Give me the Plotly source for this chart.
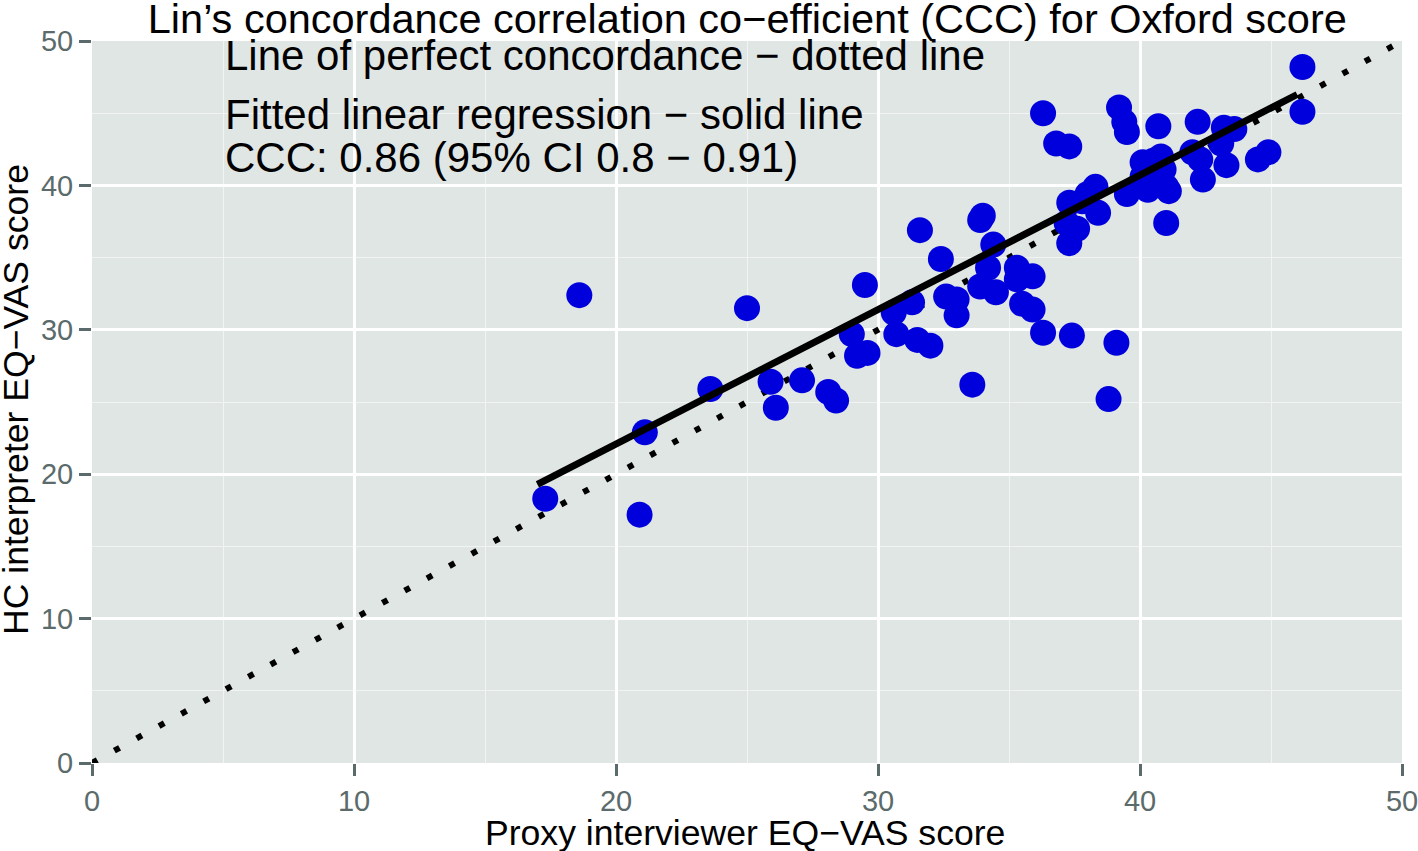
import numpy as np
import plotly.graph_objects as go

# Data
proxy_vas = [18.6, 17.3, 20.9, 21.1, 23.6, 25.0, 25.9, 26.1, 27.1, 28.1,
             28.4, 29.0, 29.2, 29.6, 29.5, 30.6, 30.7, 31.3, 31.5, 31.6,
             32.0, 32.4, 32.6, 33.0, 33.0, 33.6, 33.9, 34.0, 33.9, 34.2,
             34.4, 34.5, 35.3, 35.3, 35.5, 35.9, 35.9, 36.3, 36.3, 36.8,
             37.3, 37.4, 37.3, 37.2, 37.3, 37.6, 37.8, 38.0, 38.3, 38.4,
             38.8, 39.1, 39.2, 39.4, 39.5, 39.5, 40.1, 40.1, 40.3, 40.5,
             40.7, 40.8, 41.0, 41.1, 41.0, 40.9, 42.0, 42.2, 42.3, 42.4,
             43.1, 43.2, 43.3, 43.6, 44.5, 44.9, 46.2, 46.2]
hc_vas = [32.4, 18.3, 17.2, 22.9, 25.9, 31.5, 26.4, 24.6, 26.5, 25.7,
          25.1, 29.7, 28.2, 28.4, 33.1, 31.2, 29.7, 31.9, 29.3, 36.9,
          28.9, 34.9, 32.3, 31.0, 32.1, 26.2, 37.6, 37.9, 33.0, 34.3,
          35.9, 32.6, 34.3, 33.5, 31.8, 31.4, 33.7, 29.8, 45.0, 42.9,
          42.7, 29.6, 38.8, 37.4, 36.0, 37.0, 38.9, 39.4, 39.9, 38.1,
          25.2, 29.1, 45.4, 44.4, 43.7, 39.4, 41.6, 40.6, 39.7, 41.7,
          44.1, 42.0, 39.9, 39.6, 37.4, 41.1, 42.3, 44.4, 41.8, 40.4,
          42.9, 44.0, 41.4, 43.9, 41.8, 42.3, 48.2, 45.1]
axis_ticks = [0, 10, 20, 30, 40, 50]
identity_line = [0, 50]
# Fitted regression line as drawn in the reference (intercept, slope)
fit_coef = [3.47, 0.931]
fit_range = [17.0, 46.0]

title_text = "Lin\u2019s concordance correlation co\u2212efficient (CCC) for Oxford score"
x_title = "Proxy interviewer EQ\u2212VAS score"
y_title = "HC interpreter EQ\u2212VAS score"
notes = ["Line of perfect concordance \u2212 dotted line",
         "Fitted linear regression \u2212 solid line",
         "CCC: 0.86 (95% CI 0.8 \u2212 0.91)"]
note_y = [49.0, 44.9, 41.9]

FONT = "Liberation Sans, Arial, Helvetica, sans-serif"
TICK_COLOR = "#5B6B6B"
FIG_W, FIG_H = 1418, 851

fit_x = np.array(fit_range)
fit_y = fit_coef[0] + fit_coef[1] * fit_x

fig = go.Figure()
fig.add_trace(go.Scatter(
    x=identity_line, y=identity_line, mode="lines",
    line=dict(color="black", width=6, dash="6px,19.5px"),
    hoverinfo="skip", showlegend=False))
fig.add_trace(go.Scatter(
    x=proxy_vas, y=hc_vas, mode="markers",
    marker=dict(color="#0000DC", size=26, line=dict(width=0)),
    showlegend=False))
fig.add_trace(go.Scatter(
    x=fit_x, y=fit_y, mode="lines",
    line=dict(color="black", width=7),
    hoverinfo="skip", showlegend=False))

for txt, yy in zip(notes, note_y):
    fig.add_annotation(x=5, y=yy, xref="x", yref="y", text=txt,
                       showarrow=False, xanchor="left", yanchor="middle",
                       font=dict(family=FONT, size=42, color="black"))

# Axis titles
fig.add_annotation(x=0.5, y=0, xref="paper", yref="paper", text=x_title,
                   showarrow=False, xanchor="center", yanchor="middle",
                   xshift=-2, yshift=-70,
                   font=dict(family=FONT, size=35.6, color="black"))
fig.add_annotation(x=0, y=0.5, xref="paper", yref="paper", text=y_title,
                   showarrow=False, xanchor="center", yanchor="middle",
                   textangle=-90, xshift=-76, yshift=2,
                   font=dict(family=FONT, size=35.6, color="black"))

axis_common = dict(
    range=[0, 50], tickvals=axis_ticks, ticktext=[str(t) for t in axis_ticks],
    showgrid=True, gridcolor="white", gridwidth=2.5,
    minor=dict(dtick=5, showgrid=True, gridcolor="#F2F4F4", gridwidth=1, ticks=""),
    zeroline=False, showline=False, automargin=False,
    ticks="outside", ticklen=12, tickwidth=3, tickcolor=TICK_COLOR,
    ticklabeloverflow="allow",
    tickfont=dict(family=FONT, size=29, color=TICK_COLOR),
)

fig.update_layout(
    width=FIG_W, height=FIG_H,
    margin=dict(l=92, r=16, t=41, b=88),
    paper_bgcolor="white", plot_bgcolor="#E0E6E4",
    title=dict(text=title_text, x=0.527, xanchor="center",
               y=1 - 18 / FIG_H, yanchor="middle", yref="container",
               font=dict(family=FONT, size=41.5, color="black")),
    xaxis=axis_common,
    yaxis=axis_common,
)

# Remove the default 8px page margin so the figure sits at the window origin
fig.write_html("out.html",
               config={"displayModeBar": False},
               post_script="document.body.style.margin='0';document.body.style.padding='0';")
